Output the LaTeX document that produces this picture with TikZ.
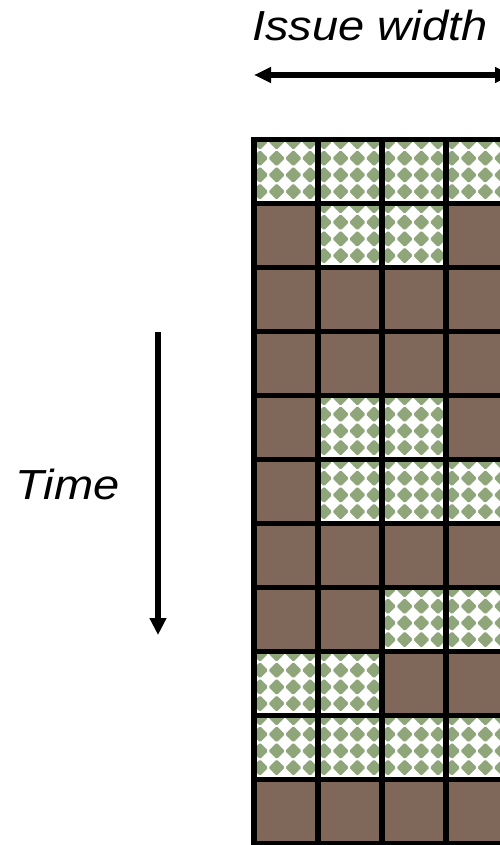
\documentclass[tikz,border=0pt]{standalone}
\usepackage{fontspec}
\setmainfont{Liberation Sans}
\usetikzlibrary{arrows.meta}
\definecolor{brownc}{RGB}{127,104,90}
\definecolor{greenc}{RGB}{143,165,122}
\newcommand{\wideitext}[1]{\scalebox{1.12}[1]{\itshape\fontsize{42}{50}\selectfont #1}}
\begin{document}
\begin{tikzpicture}[x=1pt,y=-1pt,
  lbl/.style={inner sep=0pt, anchor=base west},
  darrow/.style={line width=5.5pt, {Triangle[length=17pt,width=15pt]}-{Triangle[length=17pt,width=15pt]}},
  sarrow/.style={line width=5.5pt, -{Triangle[length=17pt,width=16pt]}},
  gridline/.style={line width=5.5pt, line cap=rect, black},
  busy/.style={fill=brownc},
  dmd/.style={fill=greenc}]
\useasboundingbox (0,0) rectangle (500,845);
\clip (0,0) rectangle (500,845);
\fill[white] (0,0) rectangle (500,845);
% labels
\node[lbl] (issue) at (252,41) {\wideitext{Issue width}};
\node[lbl] (time) at (15,499) {\wideitext{Time}};
% arrows
\coordinate (iwL) at (254,75);
\coordinate (iwR) at (512,75);
\draw[darrow] (iwL) -- (iwR);
\coordinate (tTop) at (158,332);
\coordinate (tBot) at (158,635);
\draw[sarrow] (tTop) -- (tBot);
% cells: 1 = pattern, 0 = brown
\foreach \r/\p in {0/{1,1,1,1},1/{0,1,1,0},2/{0,0,0,0},3/{0,0,0,0},4/{0,1,1,0},5/{0,1,1,1},6/{0,0,0,0},7/{0,0,1,1},8/{1,1,0,0},9/{1,1,1,1},10/{0,0,0,0}}{
  \foreach \v [count=\c from 0] in \p {
    \pgfmathsetmacro{\xo}{254+64*\c}
    \pgfmathsetmacro{\yo}{139.5+64*\r}
    \ifnum\v=0
      \fill[busy] (\xo,\yo) rectangle ++(64,64);
    \else
      \begin{scope}
        \clip (\xo,\yo) rectangle ++(64,64);
        \foreach \i in {0,1,2,3}{
          \foreach \j in {0,1,2,3}{
            \fill[dmd] ({\xo+6+16.67*\i},{\yo+2.1+16.67*\j})
              +(7.2,-1) -- +(7.2,1) -- +(1,7.2) -- +(-1,7.2)
              -- +(-7.2,1) -- +(-7.2,-1) -- +(-1,-7.2) -- +(1,-7.2) -- cycle;
          }
        }
      \end{scope}
    \fi
  }
}
% grid lines
\foreach \k in {0,...,4}{
  \draw[gridline] ({254+64*\k},139.5) -- ({254+64*\k},843.5);
}
\foreach \k in {0,...,11}{
  \draw[gridline] (254,{139.5+64*\k}) -- (510,{139.5+64*\k});
}
\end{tikzpicture}
\end{document}
